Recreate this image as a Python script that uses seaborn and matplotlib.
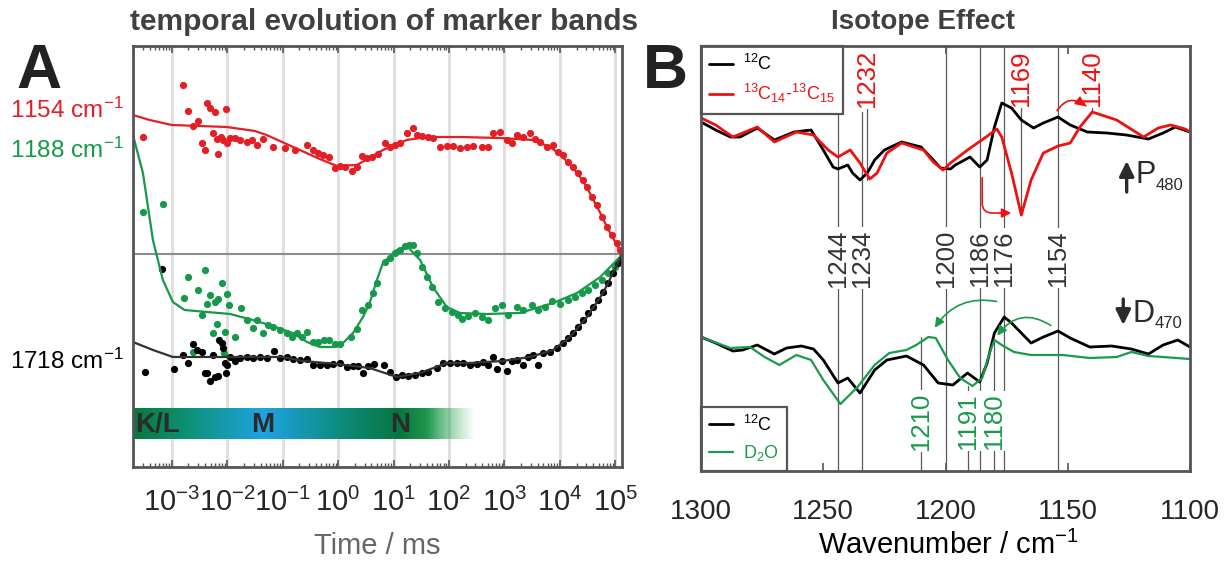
import numpy as np
import matplotlib
matplotlib.use("Agg")
import matplotlib.pyplot as plt
from matplotlib.ticker import LogLocator, NullFormatter, FixedLocator, FuncFormatter
from matplotlib.colors import LinearSegmentedColormap
import seaborn as sns

sns.set_style("white")
plt.rcParams["font.family"] = ["Liberation Sans", "DejaVu Sans"]
plt.rcParams["mathtext.fontset"] = "custom"
plt.rcParams["mathtext.rm"] = "Liberation Sans"
plt.rcParams["mathtext.it"] = "Liberation Sans:italic"
plt.rcParams["mathtext.bf"] = "Liberation Sans:bold"
plt.rcParams["mathtext.default"] = "regular"

# ---------------- panel A: log10(time / ms) and signal (a.u.) ----------------
red_fit_logt = [-3.70, -3.40, -3.00, -2.50, -2.01, -1.50, -1.29, -0.69, -0.33, -0.02, 0.34, 0.81, 1.24,
                1.60, 2.20, 2.92, 3.52, 3.82, 4.00, 4.24, 4.42, 4.58, 4.73, 4.87, 5.00, 5.12]
red_fit = [1.39, 1.34, 1.29, 1.28, 1.27, 1.23, 1.19, 1.04, 0.95, 0.88, 0.89, 1.04, 1.14,
           1.17, 1.17, 1.16, 1.14, 1.07, 1.00, 0.86, 0.73, 0.57, 0.41, 0.25, 0.12, 0.0]

green_fit_logt = [-3.70, -3.52, -3.34, -3.16, -2.98, -2.77, -2.37, -1.95, -1.54, -1.18, -0.82, -0.56, -0.33,
                  -0.09, 0.09, 0.27, 0.45, 0.57, 0.70, 0.81, 1.06, 1.24, 1.48, 1.71, 1.96, 2.20, 2.69,
                  3.28, 3.88, 4.31, 4.73, 5.12]
green_fit = [1.19, 0.81, 0.14, -0.26, -0.48, -0.56, -0.58, -0.60, -0.66, -0.72, -0.79, -0.88, -0.93,
             -0.93, -0.89, -0.79, -0.63, -0.49, -0.26, -0.09, 0.04, 0.08, -0.06, -0.33, -0.53, -0.59, -0.60,
             -0.59, -0.49, -0.39, -0.23, -0.01]

black_fit_logt = [-3.70, -3.34, -2.98, -1.95, -1.00, -0.64, -0.02, 0.57, 1.06, 1.48, 1.96, 2.38, 2.97,
                  3.46, 3.88, 4.18, 4.49, 4.78, 5.12]
black_fit = [-0.88, -0.96, -1.03, -1.03, -1.03, -1.07, -1.10, -1.14, -1.23, -1.19, -1.09, -1.09, -1.07,
             -1.03, -0.96, -0.83, -0.63, -0.39, -0.01]

red_dot_logt = [-3.51, -2.80, -2.71, -2.62, -2.53, -2.46, -2.40, -2.37, -2.31, -2.26,
                -2.22, -2.19, -2.17, -2.12, -2.08, -2.03, -2.01, -1.95, -1.86, -1.77,
                -1.65, -1.56, -1.47, -1.36, -1.18, -0.96, -0.78, -0.56, -0.45, -0.36,
                -0.27, -0.17, -0.06, 0.03, 0.12, 0.25, 0.34, 0.43, 0.52, 0.61,
                0.72, 0.84, 0.94, 1.03, 1.12, 1.24, 1.35, 1.42, 1.51, 1.62,
                1.71, 1.84, 1.96, 2.07, 2.20, 2.32, 2.43, 2.60, 2.70, 2.79,
                2.92, 3.05, 3.14, 3.23, 3.34, 3.46, 3.55, 3.64, 3.77, 3.88,
                3.97, 4.06, 4.15, 4.24, 4.33, 4.42, 4.49, 4.58, 4.67, 4.76,
                4.85, 4.94, 5.03, 5.09]
red_dot = [1.17, 1.69, 1.43, 1.28, 1.33, 1.11, 1.04, 1.51, 1.46, 1.21,
           1.42, 1.15, 1.00, 1.17, 1.14, 1.45, 1.11, 1.16, 1.16, 1.14,
           1.12, 1.14, 1.09, 1.15, 1.07, 1.06, 1.04, 1.09, 1.04, 1.01,
           0.99, 0.97, 0.86, 0.88, 0.87, 0.83, 0.87, 0.98, 0.96, 0.97,
           1.00, 1.11, 1.07, 1.09, 1.11, 1.21, 1.26, 1.19, 1.18, 1.17,
           1.16, 1.07, 1.08, 1.08, 1.06, 1.07, 1.08, 1.07, 1.07, 1.21,
           1.22, 1.14, 1.11, 1.19, 1.17, 1.21, 1.15, 1.12, 1.07, 1.09,
           1.02, 0.99, 0.92, 0.87, 0.81, 0.74, 0.67, 0.57, 0.49, 0.37,
           0.27, 0.19, 0.11, 0.04]

green_dot_logt = [-3.51, -3.16, -2.78, -2.71, -2.62, -2.53, -2.46, -2.40, -2.37, -2.31,
                  -2.26, -2.22, -2.19, -2.17, -2.10, -2.06, -2.04, -2.01, -1.97, -1.86,
                  -1.75, -1.65, -1.54, -1.47, -1.36, -1.27, -1.18, -1.05, -0.92, -0.83,
                  -0.74, -0.65, -0.56, -0.45, -0.36, -0.26, -0.17, -0.06, 0.03, 0.23,
                  0.34, 0.43, 0.54, 0.63, 0.70, 0.84, 0.94, 1.03, 1.12, 1.21,
                  1.28, 1.35, 1.42, 1.51, 1.60, 1.69, 1.80, 1.93, 2.05, 2.16,
                  2.23, 2.34, 2.47, 2.60, 2.70, 2.83, 2.96, 3.06, 3.23, 3.34,
                  3.50, 3.61, 3.73, 3.86, 4.00, 4.15, 4.27, 4.40, 4.51, 4.64,
                  4.76, 4.87, 5.00, 5.09]
green_dot = [0.42, 0.50, -0.44, -0.23, -0.98, -0.36, -0.61, -0.16, -0.50, -0.41,
             -0.79, -0.48, -0.70, -0.45, -0.29, -0.99, -0.78, -0.40, -0.51, -0.83,
             -0.54, -0.66, -0.74, -0.66, -0.79, -0.71, -0.73, -0.76, -0.79, -0.83,
             -0.79, -0.83, -0.78, -0.88, -0.88, -0.86, -0.86, -0.90, -0.90, -0.83,
             -0.75, -0.56, -0.51, -0.39, -0.29, -0.08, -0.04, 0.01, 0.04, 0.08,
             0.09, 0.09, 0.01, -0.13, -0.23, -0.33, -0.48, -0.54, -0.58, -0.61,
             -0.65, -0.62, -0.59, -0.63, -0.66, -0.54, -0.51, -0.61, -0.53, -0.56,
             -0.51, -0.56, -0.53, -0.47, -0.50, -0.46, -0.43, -0.39, -0.36, -0.31,
             -0.26, -0.19, -0.13, -0.06]

black_dot_logt = [-3.49, -3.18, -2.96, -2.80, -2.71, -2.62, -2.55, -2.46, -2.40, -2.37,
                  -2.31, -2.26, -2.22, -2.17, -2.15, -2.10, -2.08, -2.04, -2.03, -2.01,
                  -1.95, -1.86, -1.77, -1.65, -1.54, -1.41, -1.29, -1.16, -1.05, -0.92,
                  -0.82, -0.69, -0.56, -0.45, -0.33, -0.20, -0.09, 0.03, 0.16, 0.27,
                  0.36, 0.45, 0.54, 0.65, 0.83, 0.94, 1.04, 1.15, 1.26, 1.39,
                  1.51, 1.62, 1.78, 1.89, 2.02, 2.14, 2.25, 2.38, 2.51, 2.61,
                  2.70, 2.79, 2.87, 2.96, 3.05, 3.14, 3.23, 3.34, 3.43, 3.52,
                  3.61, 3.70, 3.82, 3.95, 4.06, 4.15, 4.24, 4.33, 4.42, 4.51,
                  4.60, 4.69, 4.78, 4.87, 4.96, 5.05, 5.12]
black_dot = [-1.18, -0.15, -1.15, -1.01, -1.09, -0.90, -0.96, -0.98, -1.19, -1.19,
             -1.27, -1.01, -1.23, -1.22, -0.86, -0.89, -0.94, -1.09, -1.19, -1.11,
             -1.03, -1.07, -1.04, -1.03, -1.04, -1.03, -1.04, -0.97, -1.04, -1.03,
             -1.05, -1.06, -1.05, -1.11, -1.11, -1.11, -1.10, -1.09, -1.13, -1.12,
             -1.12, -1.19, -1.12, -1.10, -1.11, -1.18, -1.23, -1.21, -1.22, -1.21,
             -1.19, -1.18, -1.14, -1.09, -1.09, -1.09, -1.09, -1.11, -1.10, -1.08,
             -1.11, -1.03, -1.15, -1.07, -1.17, -1.07, -1.06, -1.11, -1.03, -1.01,
             -1.11, -0.99, -0.98, -0.94, -0.89, -0.84, -0.79, -0.73, -0.66, -0.59,
             -0.53, -0.46, -0.38, -0.29, -0.19, -0.09, -0.03]

band_labels = ["1154 cm$^{-1}$", "1188 cm$^{-1}$", "1718 cm$^{-1}$"]
states = ["K/L", "M", "N"]

# ---------------- panel B: wavenumber / cm-1 and difference absorbance (a.u.) ----------------
p_c12_wn = [1300, 1294, 1288, 1284, 1277, 1270, 1262, 1255, 1250, 1246, 1244, 1240, 1238, 1235, 1232,
            1229, 1225, 1218, 1210, 1205, 1202, 1198, 1196, 1190, 1186, 1183, 1180, 1177, 1173, 1169,
            1164, 1160, 1154, 1149, 1142, 1134, 1126, 1117, 1111, 1106, 1100]
p_c12 = [1.38, 1.30, 1.23, 1.23, 1.32, 1.20, 1.28, 1.30, 1.10, 0.93, 0.91, 0.95, 0.87, 0.80, 0.87,
         1.00, 1.10, 1.18, 1.13, 1.00, 0.92, 0.91, 0.95, 1.03, 0.93, 1.00, 1.33, 1.57, 1.52, 1.40,
         1.32, 1.37, 1.43, 1.35, 1.28, 1.27, 1.25, 1.21, 1.27, 1.33, 1.28]
p_c13_wn = [1300, 1294, 1287, 1277, 1270, 1261, 1254, 1248, 1244, 1239, 1235, 1231, 1228, 1224, 1218,
            1209, 1205, 1201, 1198, 1191, 1184, 1179, 1177, 1173, 1169, 1165, 1160, 1154, 1149, 1145,
            1140, 1130, 1119, 1113, 1108, 1102, 1100]
p_c13 = [1.42, 1.35, 1.23, 1.33, 1.18, 1.28, 1.25, 1.10, 1.03, 1.10, 0.97, 0.81, 0.87, 1.07, 1.17,
         1.10, 0.98, 0.90, 0.97, 1.10, 1.22, 1.31, 1.23, 0.87, 0.45, 0.80, 1.07, 1.14, 1.17, 1.33,
         1.48, 1.40, 1.23, 1.32, 1.35, 1.31, 1.28]
d_c12_wn = [1300, 1294, 1287, 1283, 1277, 1270, 1265, 1259, 1254, 1250, 1244, 1240, 1235, 1229, 1224,
            1216, 1209, 1203, 1197, 1191, 1186, 1183, 1180, 1176, 1173, 1165, 1160, 1154, 1149, 1141,
            1132, 1124, 1117, 1111, 1105, 1100]
d_c12 = [-0.77, -0.83, -0.91, -0.90, -0.85, -0.94, -0.88, -0.86, -0.89, -1.00, -1.23, -1.18, -1.33, -1.10, -1.00,
         -0.96, -1.05, -1.23, -1.25, -1.13, -1.22, -1.03, -0.73, -0.57, -0.63, -0.83, -0.77, -0.71, -0.78, -0.87,
         -0.86, -0.89, -0.94, -0.85, -0.80, -0.87]
d_d2o_wn = [1300, 1288, 1280, 1274, 1268, 1261, 1255, 1250, 1243, 1236, 1229, 1223, 1216, 1212, 1207,
            1204, 1199, 1194, 1189, 1185, 1182, 1180, 1177, 1172, 1165, 1152, 1141, 1130, 1124, 1117,
            1111, 1100]
d_d2o = [-0.77, -0.88, -0.87, -0.97, -1.05, -0.95, -1.00, -1.20, -1.44, -1.27, -1.05, -0.93, -0.90, -0.85, -0.77,
         -0.78, -1.00, -1.18, -1.26, -1.18, -0.93, -0.80, -0.85, -0.92, -0.95, -0.95, -0.98, -0.97, -0.92, -0.96,
         -0.97, -0.99]

mid_marks = [1244, 1234, 1200, 1186, 1176, 1154]
red_marks = [1232, 1169, 1140]
green_marks = [1210, 1191, 1180]

RED_A = "#e41e25"
GREEN_A = "#15994a"
RED_B = "#f01010"
GREEN_B = "#1a9a4c"
SPINE = "#555555"

fig = plt.figure(figsize=(12.31, 5.61), dpi=100)
axA = fig.add_axes([0.108, 0.1676, 0.3972, 0.7504])
axB = fig.add_axes([0.5695, 0.1604, 0.3972, 0.7576])

# ---------- panel A ----------
axA.set_xscale("log")
axA.axhline(0, color="#8c8c8c", lw=1.5, zorder=1)
for logt, vals, col in [(red_dot_logt, red_dot, RED_A), (green_dot_logt, green_dot, GREEN_A),
                        (black_dot_logt, black_dot, "black")]:
    sns.scatterplot(x=10 ** np.array(logt), y=vals, color=col, s=27, linewidth=0, ax=axA, zorder=3)
for logt, vals, col in [(red_fit_logt, red_fit, RED_A), (green_fit_logt, green_fit, GREEN_A),
                        (black_fit_logt, black_fit, "#333333")]:
    sns.lineplot(x=10 ** np.array(logt), y=vals, color=col, lw=1.6, estimator=None, ax=axA, zorder=4)

axA.set_xlim(10 ** -3.70, 10 ** 5.12)
axA.set_ylim(-2.13, 2.08)
axA.xaxis.set_major_locator(LogLocator(base=10, numticks=20))
axA.xaxis.set_major_formatter(FuncFormatter(lambda v, p: "10$^{%d}$" % int(round(np.log10(v)))))
axA.xaxis.set_minor_locator(LogLocator(base=10, subs=np.arange(2, 10), numticks=100))
axA.xaxis.set_minor_formatter(NullFormatter())
axA.set_yticks([0])
axA.set_yticklabels([])
axA.grid(True, axis="x", which="major", color="#dedede", lw=2)
axA.tick_params(axis="x", which="both", direction="in", top=True, bottom=True, labelsize=21, pad=15)
axA.tick_params(axis="x", which="major", length=5, width=1.2, color=SPINE)
axA.tick_params(axis="x", which="minor", length=3, width=1, color=SPINE)
axA.tick_params(axis="y", direction="in", left=True, length=7, width=1.2, color=SPINE)
for sp in axA.spines.values():
    sp.set_color(SPINE)
    sp.set_linewidth(2)
    sp.set_zorder(10)

# photocycle state bar
bar = axA.inset_axes([0.0, 0.0665, 0.70, 0.0735])
bar_cmap = LinearSegmentedColormap.from_list("states", [
    (0.00, (0.03, 0.47, 0.25, 1.0)),
    (0.15, (0.05, 0.57, 0.45, 1.0)),
    (0.38, (0.12, 0.64, 0.90, 1.0)),
    (0.60, (0.05, 0.55, 0.50, 1.0)),
    (0.78, (0.03, 0.46, 0.24, 1.0)),
    (0.86, (0.07, 0.57, 0.27, 0.95)),
    (1.00, (0.30, 0.70, 0.40, 0.0))])
bar.imshow(np.linspace(0, 1, 400)[None, :], cmap=bar_cmap, aspect="auto", extent=[0, 1, 0, 1])
bar.set_axis_off()
for lab, xf, ha in zip(states, [0.005, 0.38, 0.78], ["left", "center", "center"]):
    bar.text(xf, 0.45, lab, ha=ha, va="center", fontsize=20, fontweight="bold", color="#2b2b2b",
             transform=bar.transAxes)

for lab, yb, col in zip(band_labels, [0.790, 0.718, 0.342], [RED_A, GREEN_A, "black"]):
    fig.text(0.008, yb, lab, color=col, fontsize=17.5, va="baseline", ha="left")

fig.text(0.3065, 0.012, "Time / ms", fontsize=21, color="#666666", ha="center", va="baseline")
fig.text(0.312, 0.961, "temporal evolution of marker bands", fontsize=21.5, fontweight="bold",
         color="#404040", ha="center", va="center")
fig.text(0.013, 0.925, "A", fontsize=45, fontweight="bold", color="#222222", ha="left", va="top")

# ---------- panel B ----------
for wn, vals, col, lw, lab in [(p_c12_wn, p_c12, "black", 2.0, "$^{12}$C"),
                               (p_c13_wn, p_c13, RED_B, 2.0, "$^{13}$C$_{14}$-$^{13}$C$_{15}$"),
                               (d_c12_wn, d_c12, "black", 2.0, "$^{12}$C"),
                               (d_d2o_wn, d_d2o, GREEN_B, 1.6, "D$_2$O")]:
    sns.lineplot(x=wn, y=vals, color=col, lw=lw, estimator=None, ax=axB, zorder=4, label=lab, legend=False)

axB.set_xlim(1300, 1100)
axB.set_ylim(-2.11, 2.14)
axB.set_yticks([])
axB.xaxis.set_major_locator(FixedLocator([1300, 1250, 1200, 1150, 1100]))
axB.tick_params(axis="x", direction="in", top=True, bottom=True, length=6, width=1.2, color=SPINE,
                labelsize=20, pad=20)
for sp in axB.spines.values():
    sp.set_color(SPINE)
    sp.set_linewidth(2)
    sp.set_zorder(10)

ymin, ymax = axB.get_ylim()
line_kw = dict(color="#5a5a5a", lw=0.9, zorder=2)
mid_from = {1244: ymax, 1234: 1.48, 1200: ymax, 1186: ymax, 1176: ymax, 1154: ymax}
for wn in mid_marks:
    axB.plot([wn, wn], [ymin, mid_from[wn]], **line_kw)
red_to = {1232: 0.80, 1169: 0.45, 1140: 1.48}
for wn in red_marks:
    axB.plot([wn, wn], [1.82, red_to[wn]], **line_kw)
green_from = {1210: -0.77, 1191: -1.26, 1180: -0.80}
for wn in green_marks:
    axB.plot([wn, wn], [green_from[wn], ymin], **line_kw)

box = dict(facecolor="white", edgecolor="none", pad=1.5)
for wn in mid_marks:
    axB.text(wn, 0.02, str(wn), rotation=90, ha="center", va="center", fontsize=18.5, color="#333333",
             bbox=box, zorder=3)
for wn in red_marks:
    axB.text(wn, 1.82, str(wn), rotation=90, ha="center", va="center", fontsize=18.5, color=RED_B,
             bbox=box, zorder=3)
for wn in green_marks:
    axB.text(wn, -1.61, str(wn), rotation=90, ha="center", va="center", fontsize=18.5, color=GREEN_B,
             bbox=box, zorder=3)

# shift arrows
thin = dict(arrowstyle="-|>", lw=1.2, mutation_scale=14)
axB.annotate("", xy=(1172, 0.47), xytext=(1185, 0.85),
             arrowprops=dict(thin, color=RED_B, connectionstyle="angle,angleA=90,angleB=0,rad=10"), zorder=5)
axB.annotate("", xy=(1142, 1.52), xytext=(1155, 1.47),
             arrowprops=dict(thin, color=RED_B, connectionstyle="arc3,rad=-0.6"), zorder=5)
axB.annotate("", xy=(1205, -0.70), xytext=(1178, -0.42),
             arrowprops=dict(thin, color=GREEN_B, connectionstyle="arc3,rad=0.35"), zorder=5)
axB.annotate("", xy=(1179.5, -0.78), xytext=(1156, -0.67),
             arrowprops=dict(thin, color=GREEN_B, connectionstyle="arc3,rad=0.5"), zorder=5)

thick = dict(arrowstyle="-|>,head_length=0.45,head_width=0.22", lw=2.4, color="#2b2b2b", mutation_scale=20,
             shrinkA=0, shrinkB=0)
axB.annotate("", xy=(1125.9, 0.99), xytext=(1125.9, 0.68), arrowprops=thick)
axB.annotate("", xy=(1127.3, -0.65), xytext=(1127.3, -0.39), arrowprops=thick)
axB.text(1122.1, 0.77, "P", fontsize=22, color="#2b2b2b", ha="left", va="baseline")
axB.text(1113.9, 0.70, "480", fontsize=12, color="#2b2b2b", ha="left", va="baseline")
axB.text(1123.5, -0.62, "D", fontsize=22, color="#2b2b2b", ha="left", va="baseline")
axB.text(1114.3, -0.68, "470", fontsize=12, color="#2b2b2b", ha="left", va="baseline")

handles, labels = axB.get_legend_handles_labels()
leg_kw = dict(frameon=True, fancybox=False, edgecolor=SPINE, framealpha=1, borderaxespad=0,
              fontsize=13, handlelength=1.3, handletextpad=0.6, borderpad=0.45, labelspacing=0.45)
leg1 = axB.legend(handles[:2], labels[:2], loc="upper left", labelcolor=["black", RED_B], **leg_kw)
leg1.get_frame().set_linewidth(1.6)
axB.add_artist(leg1)
leg2 = axB.legend(handles[2:], labels[2:], loc="lower left", labelcolor=["black", GREEN_B], **leg_kw)
leg2.get_frame().set_linewidth(1.6)

fig.text(0.770, 0.012, "Wavenumber / cm$^{-1}$", fontsize=21, color="black", ha="center", va="baseline")
fig.text(0.750, 0.961, "Isotope Effect", fontsize=20, fontweight="bold", color="#404040",
         ha="center", va="center")
fig.text(0.522, 0.925, "B", fontsize=45, fontweight="bold", color="#222222", ha="left", va="top")

fig.savefig("out.png", dpi=100)
